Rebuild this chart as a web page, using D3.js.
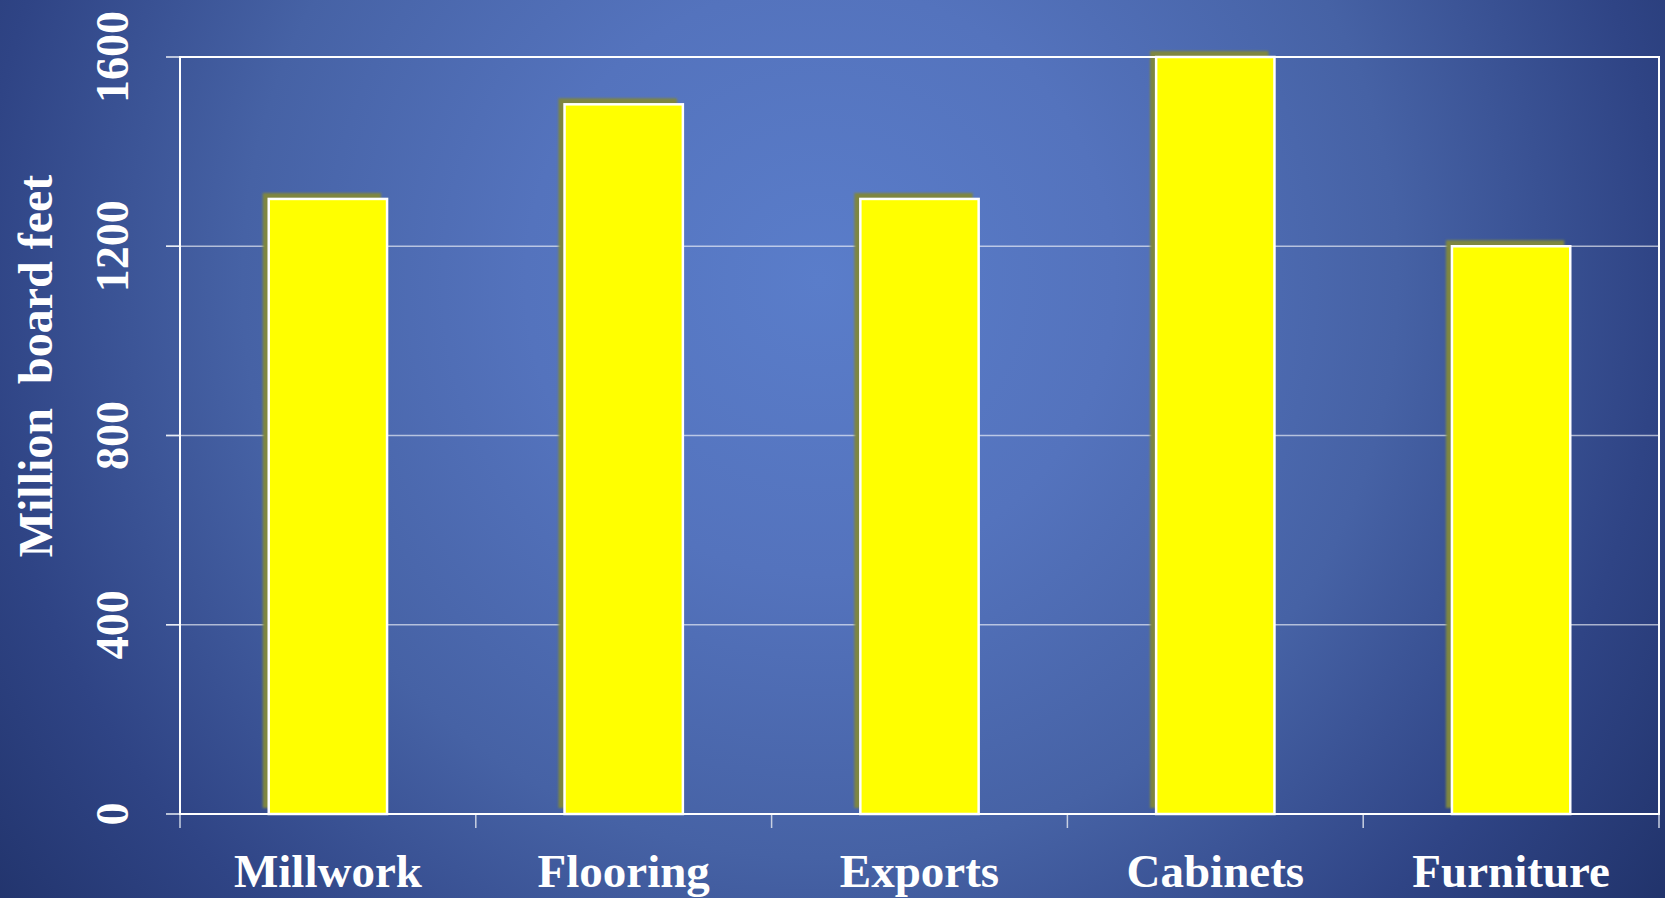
<!DOCTYPE html>
<html>
<head>
<meta charset="utf-8">
<script src="https://cdn.jsdelivr.net/npm/d3@7"></script>
<style>
  html, body { margin: 0; padding: 0; overflow: hidden; background: #22346c; }
  svg { display: block; }
  text { font-family: "Liberation Serif", "Times New Roman", serif; font-weight: bold; fill: #ffffff; white-space: pre; }
</style>
</head>
<body>
<svg id="chart" width="1665" height="898"></svg>
<script>
const categories = ["Millwork", "Flooring", "Exports", "Cabinets", "Furniture"];
const values = [1300, 1500, 1300, 1600, 1200];
const yTicks = [0, 400, 800, 1200, 1600];
const yTitle = "Million  board feet";

const W = 1665, H = 898;
const M = { left: 180, right: 1659, top: 57, bottom: 814 };

const svg = d3.select("#chart");
const defs = svg.append("defs");

const grad = defs.append("radialGradient")
  .attr("id", "bg").attr("gradientUnits", "userSpaceOnUse")
  .attr("cx", 820).attr("cy", 280).attr("r", 1050);
[[0, "#5a7dca"], [0.28, "#5473bd"], [0.55, "#4662a5"], [0.8, "#2f4485"], [1, "#21336b"]]
  .forEach(([o, c]) => grad.append("stop").attr("offset", o).attr("stop-color", c));

const blur = defs.append("filter").attr("id", "shblur")
  .attr("x", "-20%").attr("y", "-20%").attr("width", "140%").attr("height", "140%");
blur.append("feGaussianBlur").attr("stdDeviation", 1.2);

svg.append("rect").attr("width", W).attr("height", H).attr("fill", "url(#bg)");

const x = d3.scaleBand().domain(categories).range([M.left, M.right])
  .paddingInner(0.6).paddingOuter(0.3);
const y = d3.scaleLinear().domain([0, 1600]).range([M.bottom, M.top]);

// gridlines
svg.append("g").selectAll("line").data(yTicks.filter(v => v > 0 && v < 1600)).join("line")
  .attr("x1", M.left - 14).attr("x2", M.right)
  .attr("y1", d => y(d)).attr("y2", d => y(d))
  .attr("stroke", "rgba(255,255,255,0.6)").attr("stroke-width", 1.5);

// y ticks
svg.append("g").selectAll("line").data(yTicks).join("line")
  .attr("x1", M.left - 14).attr("x2", M.left)
  .attr("y1", d => y(d)).attr("y2", d => y(d))
  .attr("stroke", "#e8ecf5").attr("stroke-width", 1.5);

// x ticks at band boundaries
const bounds = d3.range(categories.length + 1).map(i => M.left + i * x.step());
svg.append("g").selectAll("line").data(bounds).join("line")
  .attr("x1", d => d).attr("x2", d => d)
  .attr("y1", M.bottom).attr("y2", M.bottom + 14)
  .attr("stroke", "#c8d0e2").attr("stroke-width", 1.5);

// bar shadows
svg.append("g").attr("filter", "url(#shblur)").selectAll("rect").data(values).join("rect")
  .attr("x", (d, i) => x(categories[i]) - 6)
  .attr("y", d => y(d) - 6)
  .attr("width", x.bandwidth())
  .attr("height", d => M.bottom - y(d))
  .attr("fill", "#7e8640");

// bars
svg.append("g").selectAll("rect").data(values).join("rect")
  .attr("x", (d, i) => x(categories[i]))
  .attr("y", d => y(d))
  .attr("width", x.bandwidth())
  .attr("height", d => M.bottom - y(d))
  .attr("fill", "#ffff00")
  .attr("stroke", "#ffffff").attr("stroke-width", 2.5);

// frame
svg.append("rect")
  .attr("x", M.left).attr("y", M.top)
  .attr("width", M.right - M.left).attr("height", M.bottom - M.top)
  .attr("fill", "none").attr("stroke", "#ffffff").attr("stroke-width", 2);

// y tick labels (rotated)
svg.append("g").selectAll("text").data(yTicks).join("text")
  .attr("transform", d => `translate(128,${y(d)}) rotate(-90)`)
  .attr("text-anchor", "middle")
  .style("font-size", "46px")
  .text(d => d);

// x labels
svg.append("g").selectAll("text").data(categories).join("text")
  .attr("x", d => x(d) + x.bandwidth() / 2)
  .attr("y", 887)
  .attr("text-anchor", "middle")
  .style("font-size", "47px")
  .text(d => d);

// y title
svg.append("text")
  .attr("transform", "translate(52,366) rotate(-90)")
  .attr("text-anchor", "middle")
  .attr("xml:space", "preserve")
  .style("font-size", "48px")
  .text(yTitle);
</script>
</body>
</html>
